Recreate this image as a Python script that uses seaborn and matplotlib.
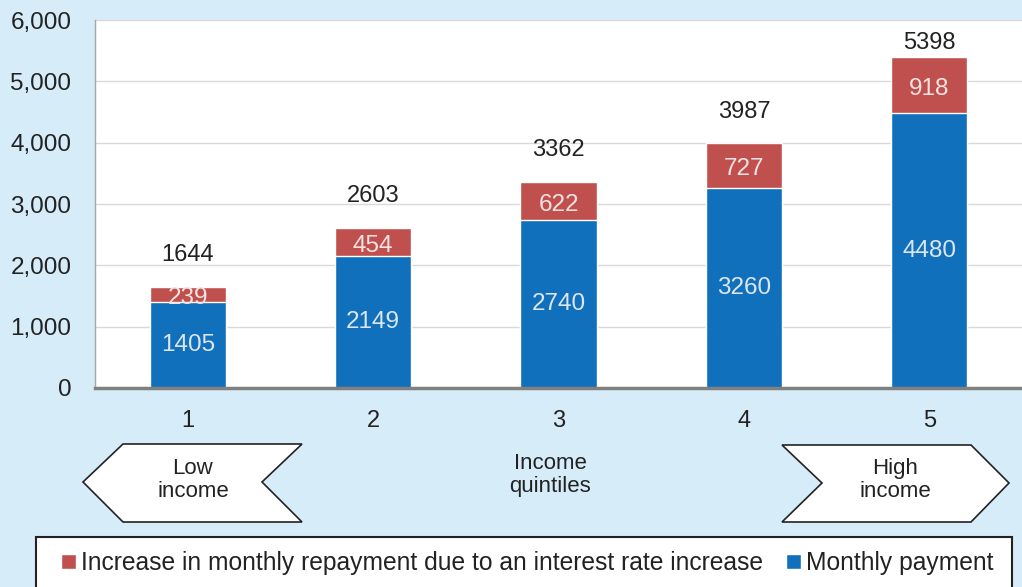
import matplotlib
matplotlib.use("Agg")
import matplotlib.pyplot as plt
import seaborn as sns
import pandas as pd
from matplotlib.patches import Polygon, Rectangle

# Data
quintiles = ["1", "2", "3", "4", "5"]
monthly_payment = [1405, 2149, 2740, 3260, 4480]
rate_increase = [239, 454, 622, 727, 918]
totals = [1644, 2603, 3362, 3987, 5398]

bg = "#d6ecf9"
blue = "#1170bc"
red = "#c0504d"

sns.set_theme(style="white")
plt.rcParams["font.family"] = ["Liberation Sans", "DejaVu Sans"]

df = pd.DataFrame({"quintile": quintiles, "monthly": monthly_payment,
                   "increase": rate_increase, "total": totals})

fig = plt.figure(figsize=(10.22, 5.87), dpi=100, facecolor=bg)
ax = fig.add_axes([95 / 1022, 199 / 587, 927 / 1022, 368 / 587])
ax.set_facecolor("white")

# stacked bars: draw the total in red, then the monthly payment over it
sns.barplot(data=df, x="quintile", y="total", color=red, saturation=1,
            width=0.41, ax=ax, label="Increase in monthly repayment due to an interest rate increase")
sns.barplot(data=df, x="quintile", y="monthly", color=blue, saturation=1,
            width=0.41, ax=ax, label="Monthly payment")
if ax.get_legend():
    ax.get_legend().remove()

ax.set_ylim(0, 6000)
ax.set_xlim(-0.5, 4.5)
ax.set_yticks(range(0, 6001, 1000))
ax.set_yticklabels([f"{v:,}" for v in range(0, 6001, 1000)], fontsize=17.5, color="#222222")
ax.tick_params(axis="x", labelsize=17, labelcolor="#222222", pad=16, length=0)
ax.tick_params(axis="y", length=0, pad=17)
ax.set_xlabel("")
ax.set_ylabel("")
ax.yaxis.grid(True, color="#d9d9d9", linewidth=1)
ax.set_axisbelow(True)
for s in ["top", "right"]:
    ax.spines[s].set_visible(False)
ax.spines["left"].set_color("#a6a6a6")
ax.spines["left"].set_linewidth(1)
ax.spines["bottom"].set_color("#808080")
ax.spines["bottom"].set_linewidth(2.5)

for i in range(len(quintiles)):
    ax.text(i, monthly_payment[i] / 2, str(monthly_payment[i]), ha="center", va="center",
            fontsize=17.5, color="#dde6ee")
    ax.text(i, monthly_payment[i] + rate_increase[i] / 2 - 60, str(rate_increase[i]),
            ha="center", va="center", fontsize=17.5, color="#f3e3e3")
    ax.text(i, min(totals[i] + 520, 5620), str(totals[i]), ha="center", va="center",
            fontsize=17, color="#222222")

# overlay in pixel coordinates for the arrows, caption and legend box
ov = fig.add_axes([0, 0, 1, 1], facecolor="none")
ov.set_xlim(0, 1022)
ov.set_ylim(587, 0)
ov.axis("off")

left_arrow = [(83, 482), (123, 444), (302, 444), (262, 482), (302, 522), (123, 522)]
right_arrow = [(782, 445), (971, 445), (1009, 483), (971, 522), (782, 522), (822, 483)]
for pts in (left_arrow, right_arrow):
    ov.add_patch(Polygon(pts, closed=True, facecolor="white", edgecolor="#222222", linewidth=1.2))
ov.text(193, 480, "Low\nincome", ha="center", va="center", fontsize=16, color="#222222",
        linespacing=1.1)
ov.text(895, 480, "High\nincome", ha="center", va="center", fontsize=16, color="#222222",
        linespacing=1.1)
ov.text(550, 475, "Income\nquintiles", ha="center", va="center", fontsize=16, color="#222222",
        linespacing=1.1)

ov.add_patch(Rectangle((36, 537), 976, 70, facecolor="white", edgecolor="#222222",
                       linewidth=1.5, clip_on=False))

handles, labels = ax.get_legend_handles_labels()
leg = fig.legend(handles, labels, loc="center left",
                 bbox_to_anchor=(61 / 1022, (587 - 563) / 587),
                 ncol=2, fontsize=17.7, frameon=False, borderpad=0, borderaxespad=0,
                 handlelength=0.6, handleheight=0.6, handletextpad=0.2,
                 columnspacing=0.95, labelcolor="#222222")

fig.savefig("out.png", dpi=100, facecolor=bg)
